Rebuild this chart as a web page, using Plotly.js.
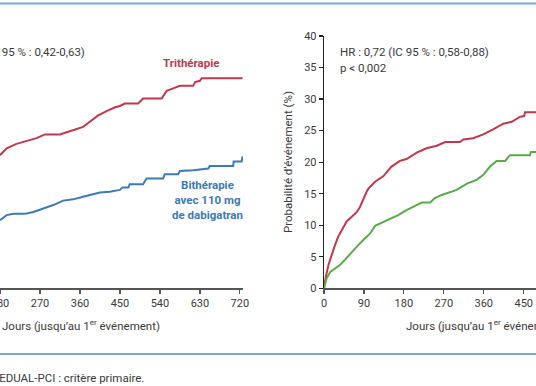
<!DOCTYPE html>
<html>
<head>
<meta charset="utf-8">
<script src="https://cdn.plot.ly/plotly-3.0.1.min.js"></script>
<style>html,body{margin:0;padding:0;background:#fff;}#chart{width:536px;height:386px;}</style>
</head>
<body>
<div id="chart"></div>
<script>
// Left panel (bleeding, 110 mg) – visible part only
var leftTriDays = [180,195,217,240,262,281,315,337,367,382,401,420,439,450,461,491,502,544,555,570,585,615,619,630,634,726];
var leftTriVals = [21.1,22.2,22.9,23.3,23.8,24.4,24.4,24.9,25.6,26.4,27.4,28.1,28.7,28.9,29.3,29.3,30.1,30.1,31.3,31.7,32.1,32.1,32.7,32.9,33.3,33.3];
var leftBiDays = [180,195,210,236,255,277,300,322,345,367,386,405,427,450,456,469,472,502,510,547,551,581,585,615,649,652,705,706,724,726];
var leftBiVals = [10.8,11.6,11.8,11.8,12.1,12.6,13.2,13.9,14.1,14.5,14.9,15.2,15.3,15.6,16.0,16.0,16.5,16.5,17.4,17.4,18.1,18.1,18.6,18.7,19.0,19.4,19.4,20.1,20.1,20.9];
// Right panel
var rightRedDays = [0,4,10,17,25,32,40,51,62,74,81,89,96,100,115,134,152,171,186,209,231,254,273,306,314,336,359,381,404,423,442,451,453,480];
var rightRedVals = [0,1.8,3.7,5.3,6.9,8.2,9.2,10.6,11.3,12.1,12.9,14.3,15.3,15.8,16.9,17.8,19.3,20.2,20.5,21.5,22.2,22.6,23.2,23.2,23.6,23.8,24.4,25.2,26.1,26.4,27.2,27.3,27.9,27.9];
var rightGreenDays = [0,6,14,25,36,47,59,74,89,104,115,130,149,167,186,201,220,239,250,265,284,299,322,344,359,374,389,408,419,464,466,480];
var rightGreenVals = [0,1.6,2.6,3.2,3.7,4.5,5.5,6.6,7.7,8.7,9.9,10.4,11.1,11.6,12.4,12.9,13.6,13.6,14.3,14.8,15.2,15.6,16.6,17.2,18.0,19.3,20.2,20.2,21.1,21.1,21.6,21.6];

var leftTicks = [180,270,360,450,540,630,720];
var rightTicks = [0,90,180,270,360,450];
var yTicks = [0,5,10,15,20,25,30,35,40];

var W = 536, H = 386;
function px(x){return x/W;}
function py(y){return 1 - y/H;}

var FONT = 'Roboto, "DejaVu Sans", sans-serif';
var TXT = '#3a3a3a';
var RED = '#c0394b', BLUE = '#3d7ab3', GREEN = '#5aaa4c';
var FS = 11.5;

var traces = [
  {x:leftTriDays, y:leftTriVals, xaxis:'x', yaxis:'y', mode:'lines', line:{color:RED, width:2}, hoverinfo:'skip'},
  {x:leftBiDays, y:leftBiVals, xaxis:'x', yaxis:'y', mode:'lines', line:{color:BLUE, width:2}, hoverinfo:'skip'},
  {x:rightRedDays, y:rightRedVals, xaxis:'x2', yaxis:'y2', mode:'lines', line:{color:RED, width:2}, hoverinfo:'skip'},
  {x:rightGreenDays, y:rightGreenVals, xaxis:'x2', yaxis:'y2', mode:'lines', line:{color:GREEN, width:2}, hoverinfo:'skip'}
];

var yDom = [py(288.3), py(36)];
var axCommon = {showgrid:false, zeroline:false, showline:true, linewidth:1.3, ticks:'outside', ticklen:4, tickwidth:1.2,
  tickfont:{family:FONT, size:11, color:TXT}, fixedrange:true, ticklabeloverflow:'allow'};

var layout = {
  width:W, height:H, margin:{l:0,r:0,t:0,b:0}, paper_bgcolor:'#fff', plot_bgcolor:'rgba(0,0,0,0)',
  showlegend:false,
  font:{family:FONT, color:TXT, size:FS},
  xaxis: Object.assign({}, axCommon, {domain:[0, px(243)], range:[180,727], tickmode:'array', tickvals:leftTicks, linecolor:'#555', tickcolor:'#555', anchor:'y'}),
  yaxis: {domain:yDom, range:[0,40], visible:false, anchor:'x'},
  xaxis2: Object.assign({}, axCommon, {domain:[px(324), 1], range:[0,477.7], tickmode:'array', tickvals:rightTicks, linecolor:'#555', tickcolor:'#555', anchor:'y2'}),
  yaxis2: Object.assign({}, axCommon, {domain:yDom, range:[0,40], tickmode:'array', tickvals:yTicks, linecolor:'#222', tickcolor:'#222', anchor:'x2'}),
  shapes:[
    {type:'line', xref:'paper', yref:'paper', x0:0, x1:1, y0:py(3.5), y1:py(3.5), line:{color:'#76a7cc', width:2}},
    {type:'line', xref:'paper', yref:'paper', x0:0, x1:1, y0:py(354), y1:py(354), line:{color:'#76a7cc', width:2}}
  ],
  annotations:[
    {xref:'paper', yref:'paper', x:px(87), y:py(52), xanchor:'right', yanchor:'middle', showarrow:false,
      text:'HR : 0,52 (IC 95 % : 0,42-0,63)', font:{family:FONT, size:FS, color:TXT}},
    {xref:'paper', yref:'paper', x:px(338), y:py(52), xanchor:'left', yanchor:'middle', showarrow:false,
      text:'HR : 0,72 (IC 95 % : 0,58-0,88)', font:{family:FONT, size:FS, color:TXT}},
    {xref:'paper', yref:'paper', x:px(338), y:py(68), xanchor:'left', yanchor:'middle', showarrow:false,
      text:'p &lt; 0,002', font:{family:FONT, size:FS, color:TXT}},
    {xref:'paper', yref:'paper', x:px(191), y:py(63), xanchor:'center', yanchor:'middle', showarrow:false,
      text:'<b>Trithérapie</b>', font:{family:FONT, size:11.5, color:RED}},
    {xref:'paper', yref:'paper', x:px(207), y:py(200), xanchor:'center', yanchor:'middle', showarrow:false, align:'center',
      text:'<b>Bithérapie<br>avec 110 mg<br>de dabigatran</b>', font:{family:FONT, size:11.5, color:BLUE}},
    {xref:'paper', yref:'paper', x:px(81), y:py(325), xanchor:'center', yanchor:'middle', showarrow:false,
      text:'Jours (jusqu\u2019au 1<sup>er</sup> événement)', font:{family:FONT, size:FS, color:TXT}},
    {xref:'paper', yref:'paper', x:px(484.7), y:py(325), xanchor:'center', yanchor:'middle', showarrow:false,
      text:'Jours (jusqu\u2019au 1<sup>er</sup> événement)', font:{family:FONT, size:FS, color:TXT}},
    {xref:'paper', yref:'paper', x:px(288), y:py(162), xanchor:'center', yanchor:'middle', showarrow:false, textangle:-90,
      text:'Probabilité d\u2019événement (%)', font:{family:FONT, size:FS, color:TXT}},
    {xref:'paper', yref:'paper', x:px(146), y:py(378), xanchor:'right', yanchor:'middle', showarrow:false,
      text:'Figure 2. Étude REDUAL-PCI : critère primaire.', font:{family:FONT, size:FS, color:TXT}}
  ]
};

Plotly.newPlot('chart', traces, layout, {staticPlot:true, displayModeBar:false});
</script>
</body>
</html>
